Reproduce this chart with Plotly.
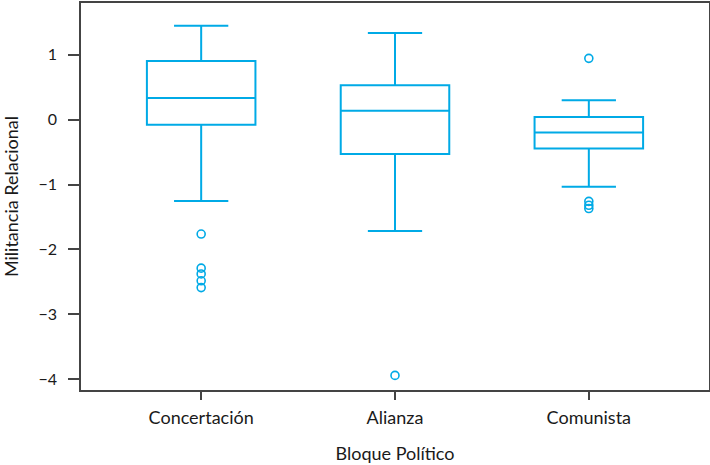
import plotly.graph_objects as go

categories = ["Concertación", "Alianza", "Comunista"]
lower_whisker = [-1.255, -1.718, -1.034]
q1 = [-0.077, -0.53, -0.443]
median = [0.335, 0.139, -0.196]
q3 = [0.906, 0.53, 0.041]
upper_whisker = [1.45, 1.338, 0.298]
outliers = {
    "Concertación": [-1.764, -2.29, -2.38, -2.485, -2.59],
    "Alianza": [-3.945],
    "Comunista": [0.946, -1.26, -1.32, -1.37],
}

color = "#00AAE6"
fig = go.Figure()
fig.add_trace(go.Box(
    x=categories, q1=q1, median=median, q3=q3,
    lowerfence=lower_whisker, upperfence=upper_whisker,
    line=dict(color=color, width=2), fillcolor="rgba(0,0,0,0)",
    whiskerwidth=0.5, boxpoints=False, showlegend=False,
))
ox, oy = [], []
for c in categories:
    for v in outliers[c]:
        ox.append(c)
        oy.append(v)
fig.add_trace(go.Scatter(
    x=ox, y=oy, mode="markers", showlegend=False,
    marker=dict(symbol="circle-open", size=8, color=color, line=dict(width=1.6)),
))

font = "Lato"
fig.update_layout(
    width=710, height=465,
    margin=dict(l=81, r=1, t=3, b=75),
    paper_bgcolor="white", plot_bgcolor="white",
    boxgap=0.2,
    font=dict(family=font, color="#1a1a1a"),
)
fig.update_xaxes(
    range=[-0.62, 2.62], showgrid=False, zeroline=False, automargin=False,
    showline=True, mirror=True, linecolor="#444", linewidth=1.5,
    ticks="outside", ticklen=8, tickwidth=1.5, tickcolor="#444",
    tickfont=dict(size=18, family=font), ticklabelstandoff=3,
    title=dict(text="Bloque Político", font=dict(size=18, family=font), standoff=20),
)
fig.update_yaxes(
    range=[-4.17, 1.80], showgrid=False, zeroline=False, automargin=False,
    showline=True, mirror=True, linecolor="#444", linewidth=1.5,
    ticks="outside", ticklen=11, tickwidth=1.5, tickcolor="#444",
    tickvals=[-4, -3, -2, -1, 0, 1],
    tickfont=dict(size=16, family=font), ticklabelstandoff=8,
    title=dict(text="Militancia Relacional", font=dict(size=18, family=font), standoff=17),
)
fig.write_html("out.html", config={"displayModeBar": False},
               post_script="document.body.style.margin='0px';")
